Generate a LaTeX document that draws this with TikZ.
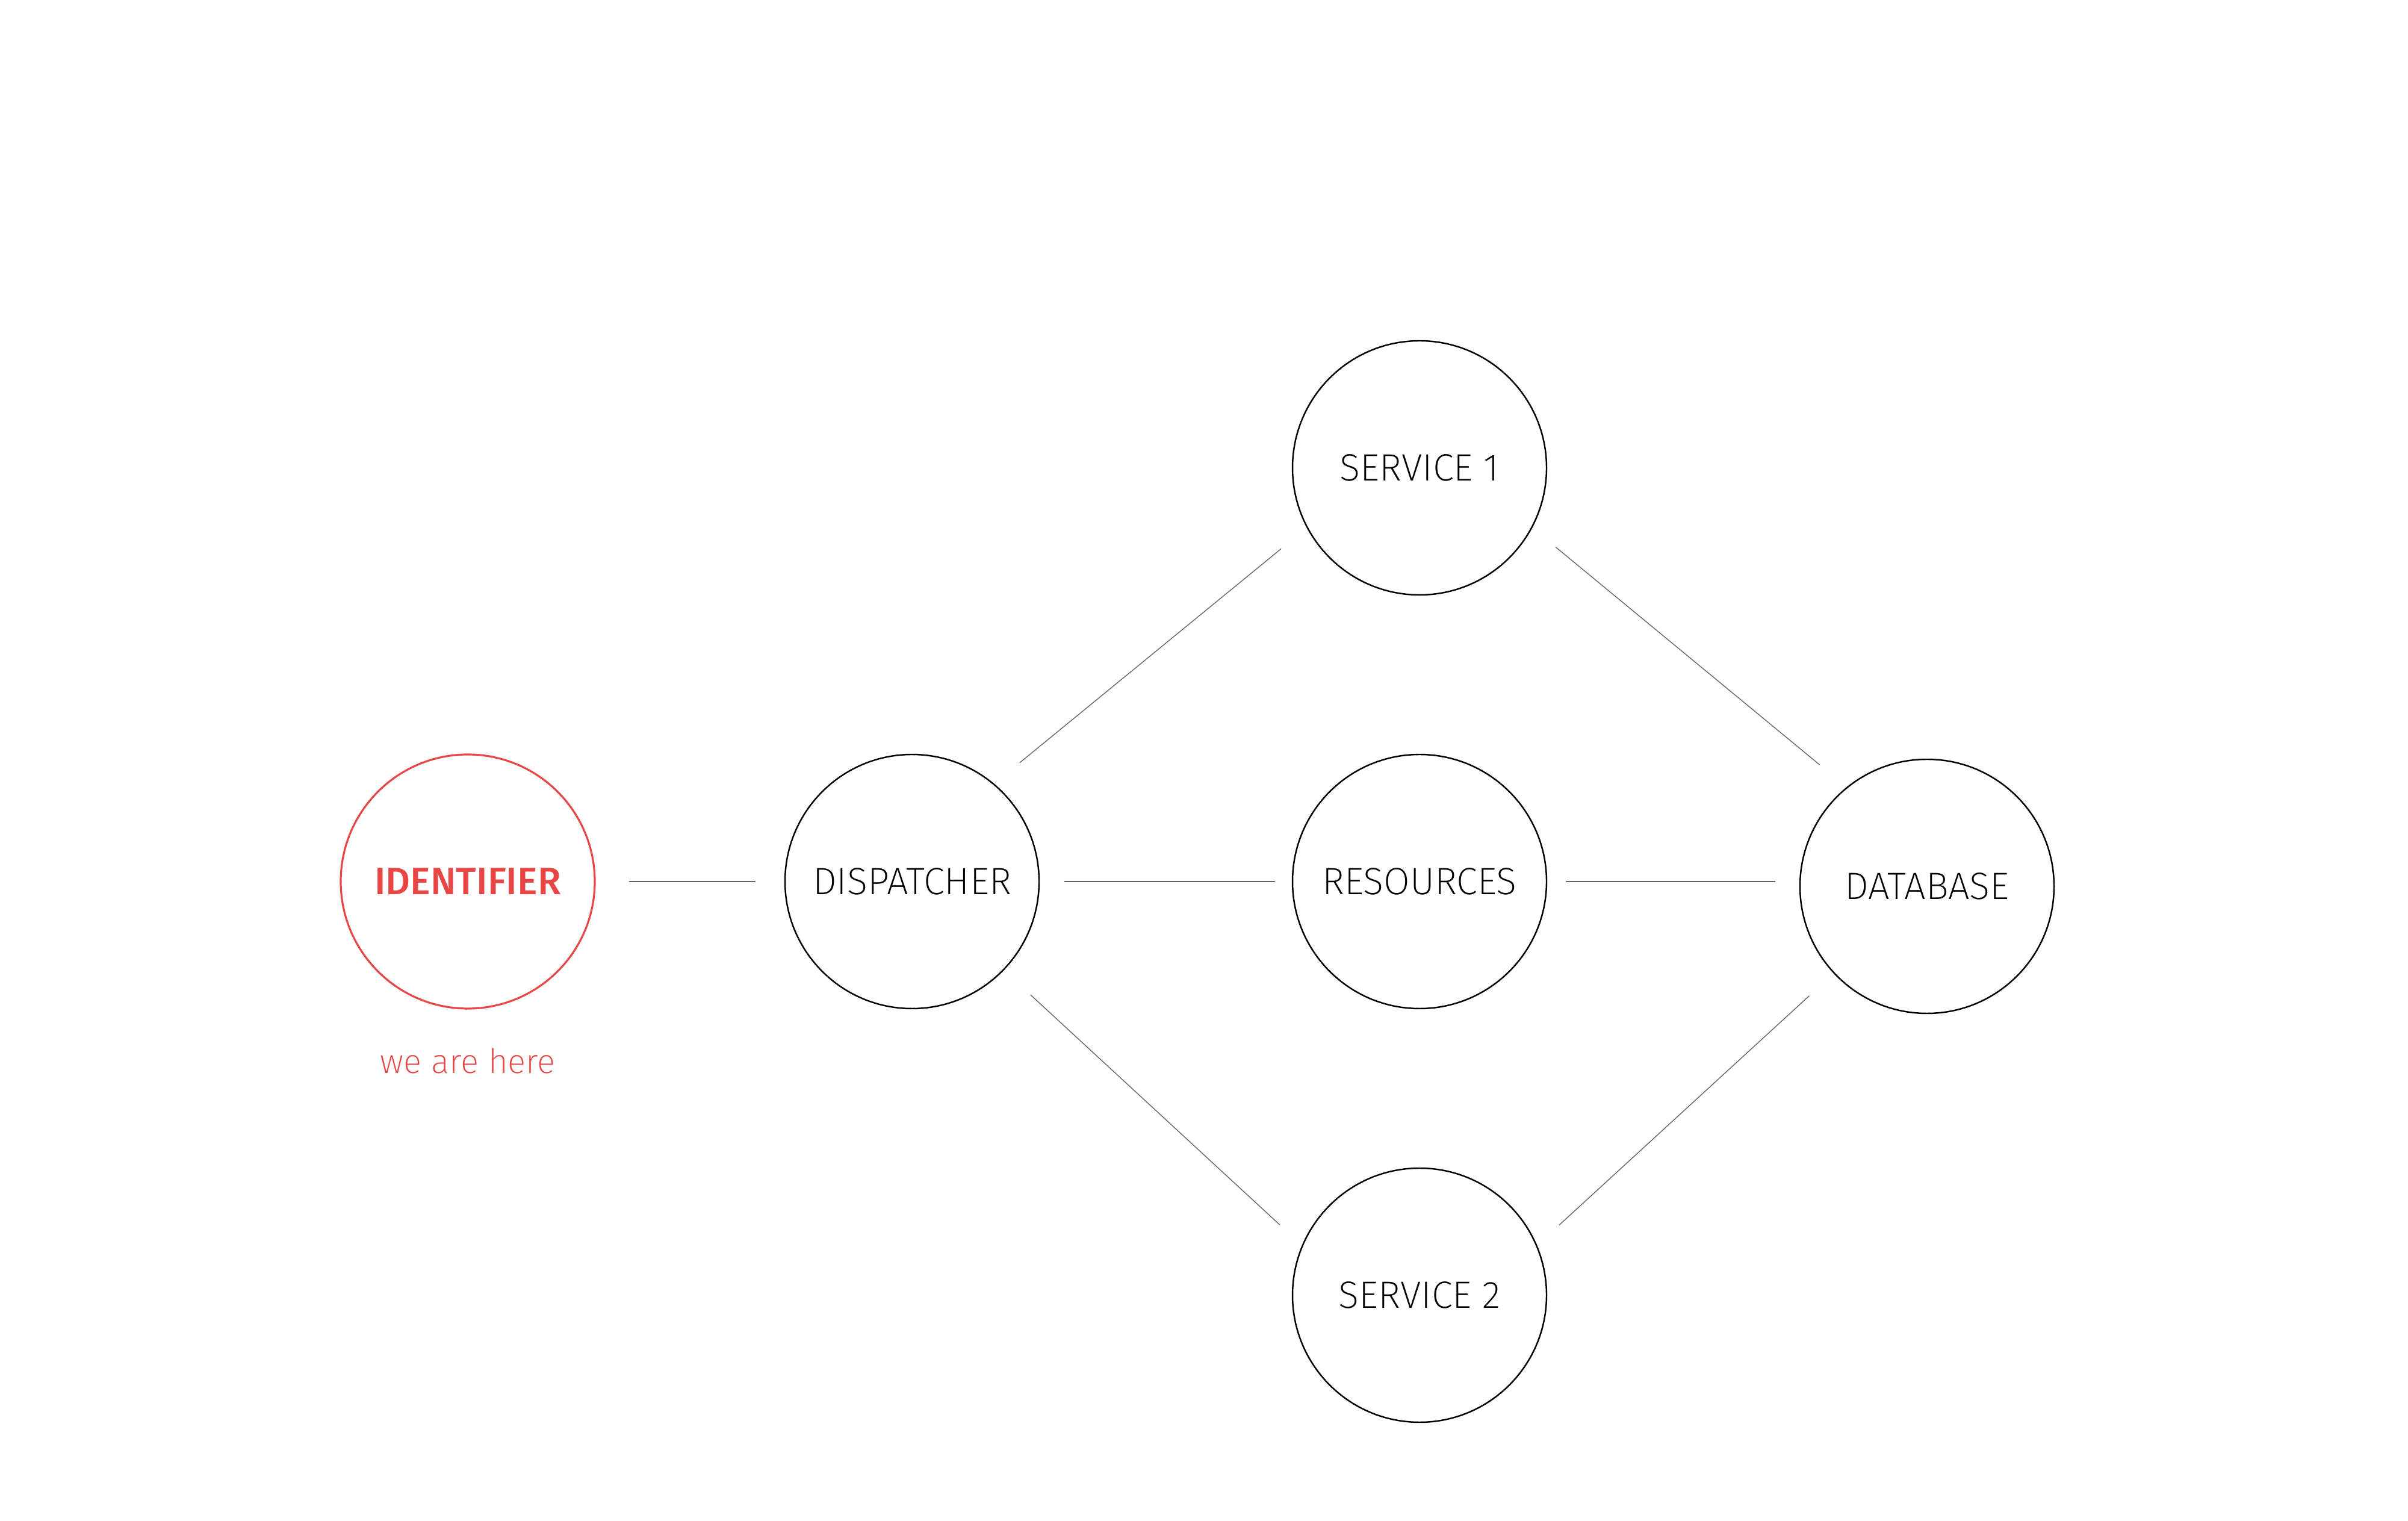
\documentclass[tikz,border=0pt]{standalone}
\usepackage{fontspec}
\setmainfont{Fira Sans ExtraLight}
\newfontfamily\idfont{Fira Sans Medium}
\usetikzlibrary{calc}
\definecolor{idred}{HTML}{E84545}

\begin{document}
\begin{tikzpicture}[
  unit/.style={circle, draw=black, line width=0.7pt, minimum size=4.22cm, inner sep=0pt, font=\fontsize{18}{20}\selectfont},
  link/.style={draw=black!60, line width=0.4pt, shorten <=0.5cm, shorten >=0.5cm}]
\useasboundingbox (0,0) rectangle (40,25.25);

% Nodes
\node[unit, draw=idred, line width=0.9pt, text=idred, font=\idfont\fontsize{18}{20}\selectfont] (ident) at (7.77,10.61) {IDENTIFIER};
\node[text=idred, font=\fontsize{16}{18}\selectfont, anchor=base] (here) at (7.77,7.42) {we are here};
\node[unit] (disp) at (15.15,10.61) {DISPATCHER};
\node[unit] (svc1) at (23.58,17.48) {SERVICE 1};
\node[unit] (res) at (23.58,10.61) {RESOURCES};
\node[unit] (svc2) at (23.58,3.74) {SERVICE 2};
\node[unit] (db) at (32.01,10.53) {DATABASE};

% Connections
\draw[link, shorten <=0.55cm, shorten >=0.48cm] (ident.east) -- (disp.west);
\draw[link, shorten <=0.41cm, shorten >=0.28cm] (disp.east) -- (res.west);
\draw[link, shorten <=0.31cm, shorten >=0.4cm] (res.east) -- (res.east -| db.west);
\draw[link, shorten <=0.55cm, shorten >=0.55cm] (disp.50) -- (svc1.208);
\draw[link, shorten >=0.58cm] (svc1.332) -- (db.129);
\draw[link, shorten <=0.6cm] (disp.316) -- (svc2.157);
\draw[link, shorten >=0.55cm] (svc2.23) -- (db.223);
\end{tikzpicture}
\end{document}
